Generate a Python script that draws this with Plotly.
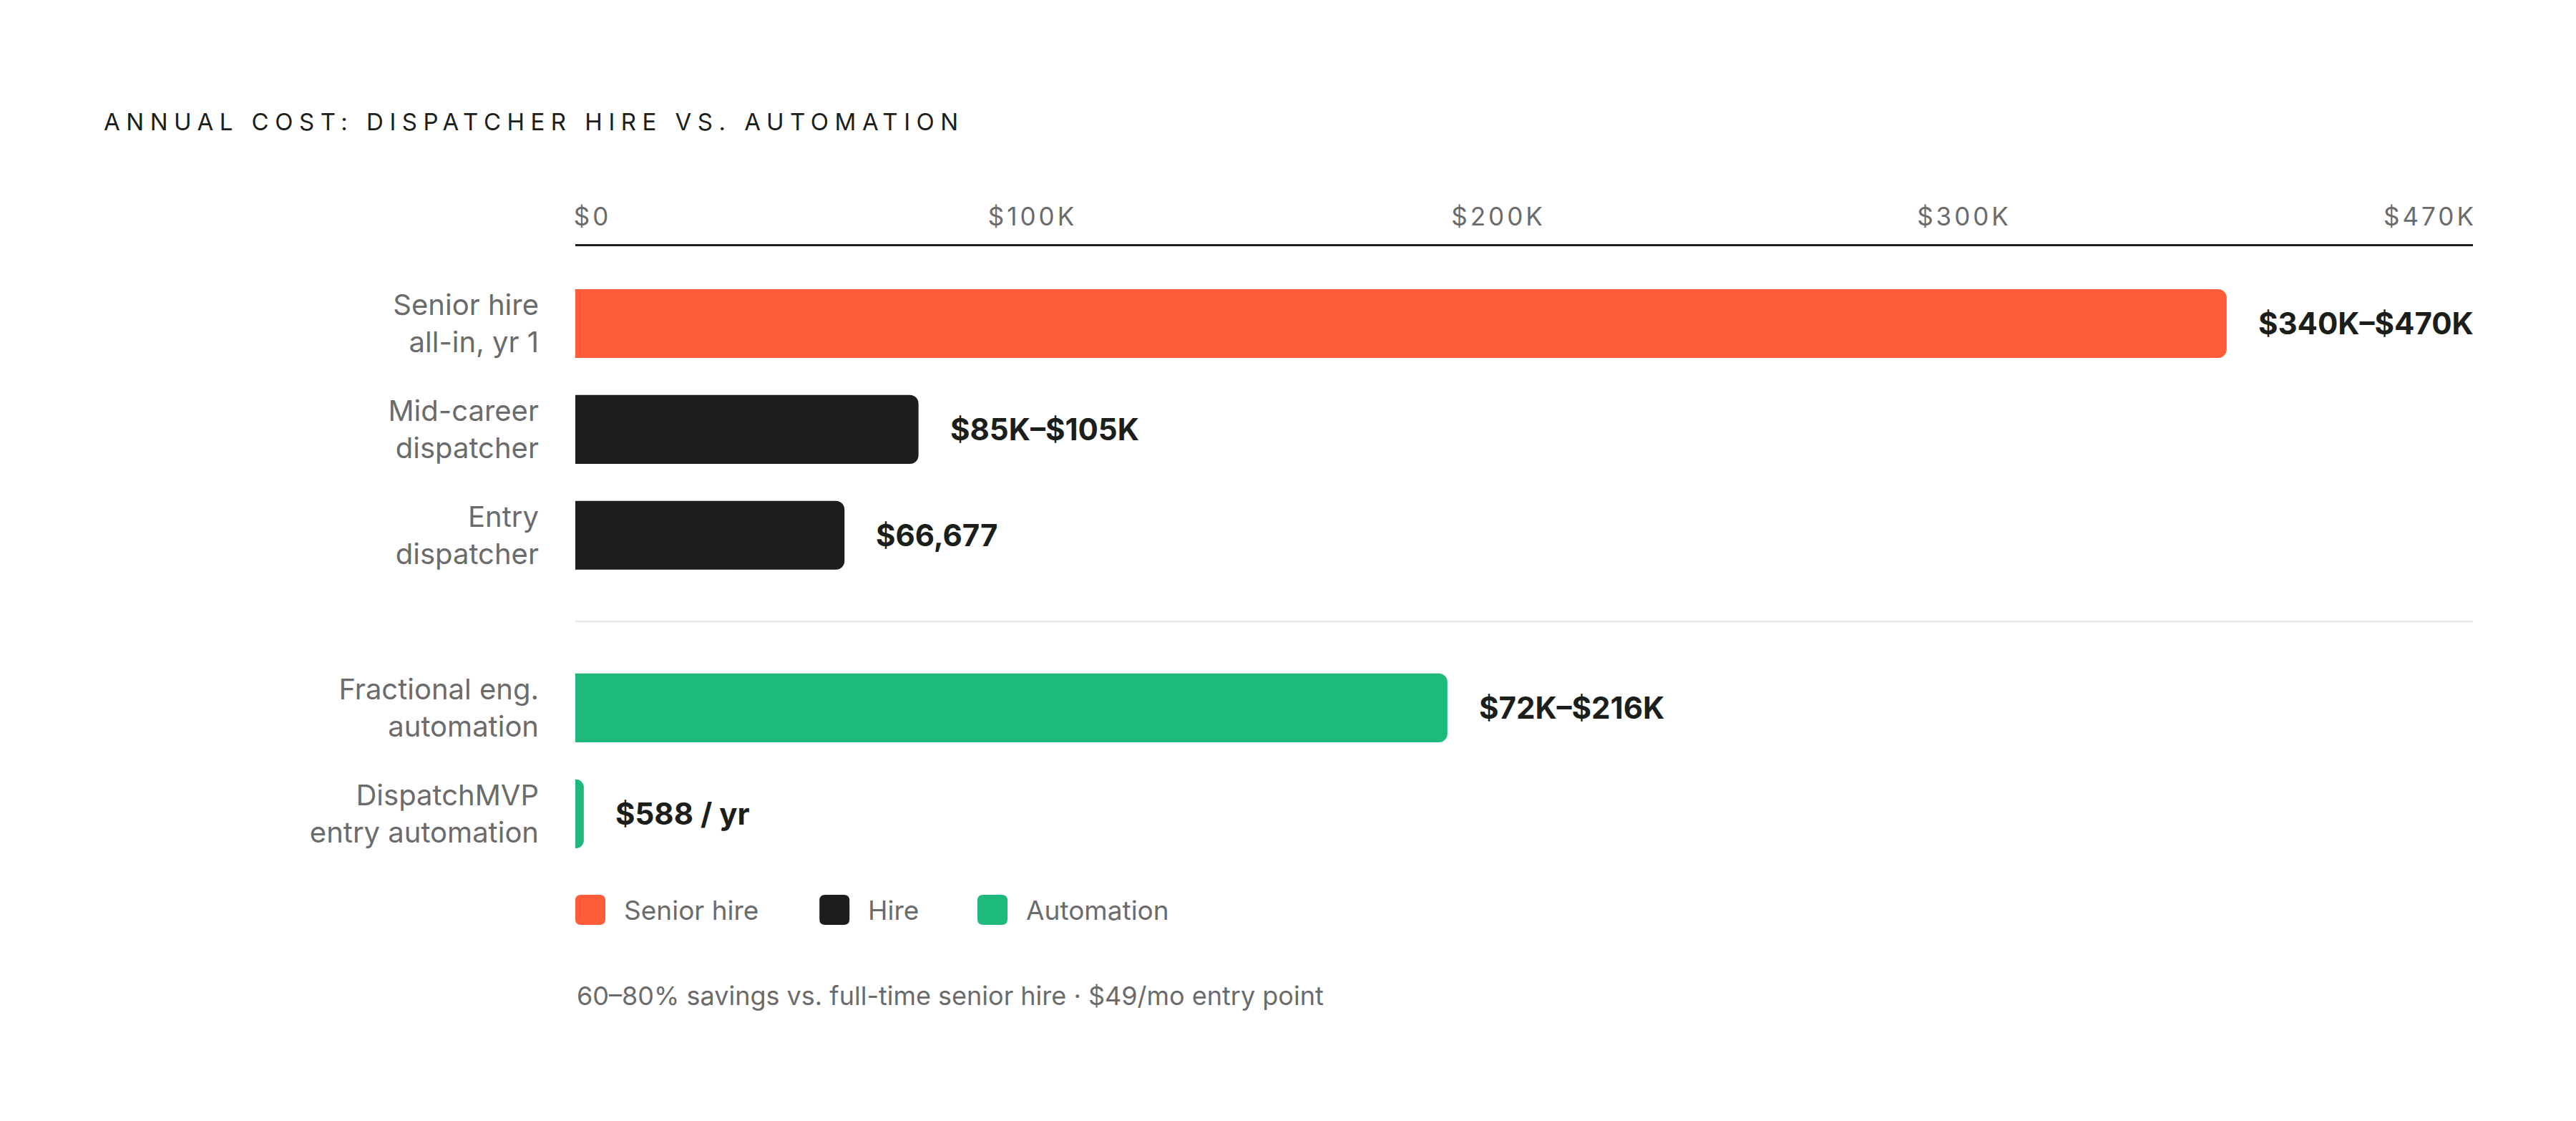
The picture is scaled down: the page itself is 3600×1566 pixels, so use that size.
import plotly.graph_objects as go

# chart data
categories = [
    "Senior hire<br>all-in, yr 1",
    "Mid-career<br>dispatcher",
    "Entry<br>dispatcher",
    "Fractional eng.<br>automation",
    "DispatchMVP<br>entry automation",
]
series = ["Senior hire", "Hire", "Hire", "Automation", "Automation"]
sections = ["Hiring", "Hiring", "Hiring", "Automation", "Automation"]
# bar lengths as drawn (the $588 bar is drawn at a minimum visible width)
bar_values = [409000, 85000, 66677, 216000, 2100]
value_labels = ["$340K–$470K", "$85K–$105K", "$66,677", "$72K–$216K", "$588 / yr"]
legend_names = ["Senior hire", "Hire", "Automation"]
tick_labels = ["$0", "$100K", "$200K", "$300K", "$470K"]
x_max = 470000

title = "ANNUAL COST: DISPATCHER HIRE VS. AUTOMATION"
footnote = "60–80% savings vs. full-time senior hire · $49/mo entry point"

colors = {"Senior hire": "#FF5D3A", "Hire": "#1B1E1B", "Automation": "#1EB97D"}
INK = "#1B1E1B"
MUTED = "#6B6B6B"
FONT = "Inter"

W, H = 3600, 1566
M_L, M_R, M_T, M_B = 804, 144, 344, 336
plot_w = W - M_L - M_R
plot_h = H - M_T - M_B


def paper_y(px):
    return 1 - (px - M_T) / plot_h


# y positions: one unit per row, extra gap between hiring and automation rows
SECTION_GAP = 0.63
y_pos = []
p = 0.0
for i, sec in enumerate(sections):
    if i > 0:
        p += 1 + (SECTION_GAP if sec != sections[i - 1] else 0)
    y_pos.append(p)
sep_y = [(y_pos[i - 1] + y_pos[i]) / 2 for i in range(1, len(sections)) if sections[i] != sections[i - 1]]

# x tick labels spread like a space-between row across the axis
char_px = 24
widths = [len(t) * char_px for t in tick_labels]
gap = (plot_w - sum(widths)) / (len(tick_labels) - 1)
tick_vals = []
cursor = 0
for w in widths:
    tick_vals.append((cursor + w / 2) / plot_w * x_max)
    cursor += w + gap

fig = go.Figure()
for name in legend_names:
    idx = [i for i, s in enumerate(series) if s == name]
    fig.add_trace(go.Bar(
        orientation="h",
        x=[bar_values[i] for i in idx],
        y=[y_pos[i] for i in idx],
        width=0.65,
        name=name,
        marker=dict(color=colors[name], cornerradius=12, line=dict(width=0)),
        hoverinfo="skip",
        showlegend=False,
    ))

annotations = []
for i, lab in enumerate(value_labels):
    annotations.append(dict(
        x=bar_values[i], y=y_pos[i], xref="x", yref="y",
        text=lab, showarrow=False, xanchor="left", yanchor="middle", xshift=42,
        font=dict(family=FONT, size=42, color=INK, weight=700),
    ))

# legend drawn by hand so the swatches can match the big rounded squares
shapes = []
for y in sep_y:
    shapes.append(dict(type="line", xref="x domain", x0=0, x1=1, yref="y", y0=y, y1=y,
                       line=dict(color="#E2E2E2", width=2)))

leg_y = paper_y(1271)
sw, r = 42, 8
lx = 0
for name in legend_names:
    path = (f"M{lx + r},{-sw / 2} H{lx + sw - r} Q{lx + sw},{-sw / 2} {lx + sw},{-sw / 2 + r} "
            f"V{sw / 2 - r} Q{lx + sw},{sw / 2} {lx + sw - r},{sw / 2} H{lx + r} "
            f"Q{lx},{sw / 2} {lx},{sw / 2 - r} V{-sw / 2 + r} Q{lx},{-sw / 2} {lx + r},{-sw / 2} Z")
    shapes.append(dict(type="path", path=path, xref="paper", yref="paper",
                       xsizemode="pixel", ysizemode="pixel", xanchor=0, yanchor=leg_y,
                       fillcolor=colors[name], line=dict(width=0)))
    annotations.append(dict(
        x=0, y=leg_y, xref="paper", yref="paper", xshift=lx + sw + 24,
        text=name, showarrow=False, xanchor="left", yanchor="middle",
        font=dict(family=FONT, size=37, color=MUTED),
    ))
    lx += sw + 24 + len(name) * 17.2 + 86

annotations.append(dict(
    x=0, y=paper_y(1391), xref="paper", yref="paper",
    text=footnote, showarrow=False, xanchor="left", yanchor="middle",
    font=dict(family=FONT, size=36, color=MUTED),
))

fig.update_layout(
    width=W, height=H,
    margin=dict(l=M_L, r=M_R, t=M_T, b=M_B),
    paper_bgcolor="white", plot_bgcolor="white",
    barmode="overlay",
    title=dict(text=title, xref="container", yref="container", x=145 / W, y=1 - 170 / H,
               xanchor="left", yanchor="middle", font=dict(family=FONT, size=33, color=INK)),
    xaxis=dict(side="top", range=[0, x_max], tickvals=tick_vals, ticktext=tick_labels,
               showgrid=False, zeroline=False, showline=True, linecolor=INK, linewidth=3,
               ticks="", ticklabelstandoff=12, fixedrange=True,
               tickfont=dict(family=FONT, size=35, color=MUTED)),
    yaxis=dict(range=[5.26, -0.73], tickvals=y_pos, ticktext=categories,
               showgrid=False, zeroline=False, showline=False, ticks="",
               ticklabelstandoff=50, fixedrange=True,
               tickfont=dict(family=FONT, size=40, color=MUTED)),
    annotations=annotations,
    shapes=shapes,
    showlegend=False,
)

# page margin off, letter-spacing for the tracked title and axis labels
tracking = """
document.body.style.margin = '0';
var gd = document.getElementById('{plot_id}');
gd.querySelectorAll('.gtitle').forEach(function(t){ t.style.letterSpacing = '8.5px'; });
gd.querySelectorAll('.xtick text').forEach(function(t){ t.style.letterSpacing = '4px'; });
"""

fig.write_html("out.html", post_script=tracking, config=dict(displayModeBar=False))
